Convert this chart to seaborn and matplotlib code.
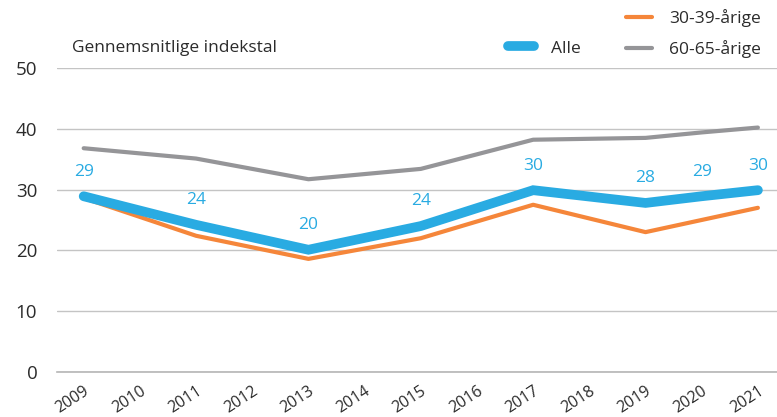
import numpy as np
import matplotlib.pyplot as plt
import pandas as pd
import seaborn as sns
from matplotlib.lines import Line2D

# values
years = [2009, 2011, 2013, 2015, 2017, 2019, 2020, 2021]
alle = [28.9, 24.2, 20.1, 24.0, 29.9, 27.8, 28.9, 29.9]
aarige_30_39 = [28.6, 22.4, 18.6, 22.0, 27.5, 23.0, 25.0, 27.0]
aarige_60_65 = [36.8, 35.1, 31.7, 33.4, 38.2, 38.5, 39.4, 40.2]
labels_alle = ['29', '24', '20', '24', '30', '28', '29', '30']
tick_years = list(range(2009, 2022))

blue = '#29abe2'
orange = '#f5863a'
grey = '#959598'
txt = '#2b2b2b'

df = pd.DataFrame({'year': years, 'Alle': alle,
                   '30-39-årige': aarige_30_39, '60-65-årige': aarige_60_65})

sns.set_style('white')
plt.rcParams['font.family'] = ['Open Sans', 'DejaVu Sans']

fig = plt.figure(figsize=(7.77, 4.17), dpi=100)
ax = fig.add_axes([0.073, 0.108, 0.927, 0.729])

sns.lineplot(data=df, x='year', y='60-65-årige', color=grey, linewidth=3, ax=ax,
             solid_capstyle='round')
sns.lineplot(data=df, x='year', y='30-39-årige', color=orange, linewidth=3, ax=ax,
             solid_capstyle='round')
sns.lineplot(data=df, x='year', y='Alle', color=blue, linewidth=7, ax=ax,
             solid_capstyle='round', solid_joinstyle='miter')

for x, y, s in zip(years, alle, labels_alle):
    ax.annotate(s, (x, y), xytext=(0, 12), textcoords='offset points',
                ha='center', va='bottom', color=blue, fontsize=12.5)

ax.set_ylim(0, 50)
ax.set_xlim(2008.52, 2021.34)
ax.set_yticks([0, 10, 20, 30, 40, 50])
ax.set_xticks(tick_years)
ax.set_xticklabels([str(y) for y in tick_years], rotation=33, ha='right',
                   rotation_mode='anchor', fontsize=11.5, color=txt)
ax.tick_params(axis='y', length=0, labelsize=13.5, labelcolor=txt, pad=14)
ax.tick_params(axis='x', direction='in', length=5, color='#aaaaaa', width=1, pad=8)
ax.set_xlabel('')
ax.set_ylabel('')
ax.grid(axis='y', color='#c4c4c4', linewidth=1)
ax.set_axisbelow(True)
for side in ['top', 'right', 'left']:
    ax.spines[side].set_visible(False)
ax.spines['bottom'].set_color('#b5b5b5')
ax.spines['bottom'].set_linewidth(1.2)

fig.text(0.093, 0.884, 'Gennemsnitlige indekstal', fontsize=12.5, color=txt, va='center')

handles = [Line2D([], [], color='none'),
           Line2D([], [], color=blue, linewidth=7, solid_capstyle='round'),
           Line2D([], [], color=orange, linewidth=3),
           Line2D([], [], color=grey, linewidth=3)]
leg = fig.legend(handles, ['', 'Alle', '30-39-årige', '60-65-årige'], ncol=2,
                 loc='upper right', bbox_to_anchor=(1.0, 1.015), frameon=False,
                 fontsize=12.5, handlelength=1.5, handletextpad=1.0,
                 columnspacing=2.6, labelspacing=0.75)
for t in leg.get_texts():
    t.set_color(txt)

fig.savefig('out.png', dpi=100)
